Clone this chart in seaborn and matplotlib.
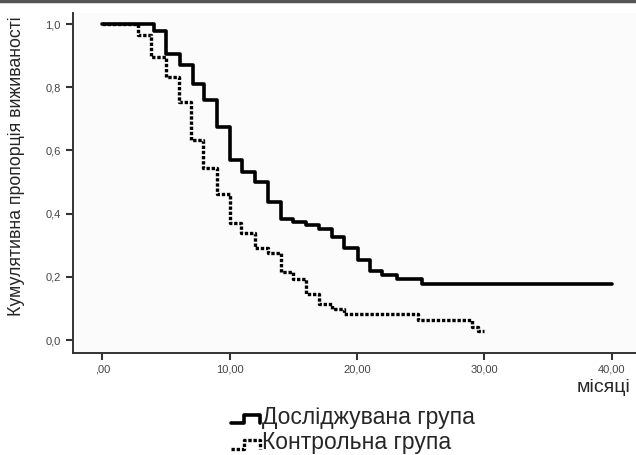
import numpy as np
import pandas as pd
import seaborn as sns
import matplotlib.pyplot as plt
from matplotlib.lines import Line2D
from matplotlib.legend_handler import HandlerLine2D

# --- data ---
study_label = "Досліджувана група"
control_label = "Контрольна група"

study_time = [0, 4.1, 5.0, 6.1, 7.1, 8.0, 9.0, 10.0, 11.0, 12.0, 13.0, 14.0,
              15.0, 16.0, 17.0, 18.0, 19.0, 20.1, 21.0, 22.0, 23.1, 25.1, 40.0]
study_surv = [1.0, 0.979, 0.904, 0.872, 0.809, 0.759, 0.675, 0.570, 0.532, 0.501,
              0.437, 0.383, 0.373, 0.363, 0.353, 0.327, 0.290, 0.253, 0.218, 0.206,
              0.193, 0.177, 0.177]

control_time = [0, 2.8, 3.85, 5.0, 6.0, 7.0, 7.9, 9.0, 10.0, 10.9, 12.0, 13.0,
                14.0, 15.0, 16.0, 17.0, 18.0, 19.0, 24.8, 29.0, 29.5, 30.0]
control_surv = [1.0, 0.965, 0.897, 0.833, 0.754, 0.633, 0.543, 0.461, 0.372, 0.338,
                0.290, 0.276, 0.216, 0.193, 0.146, 0.114, 0.097, 0.083, 0.063, 0.042,
                0.03, 0.03]

x_ticks = [0, 10, 20, 30, 40]
x_tick_labels = [",00", "10,00", "20,00", "30,00", "40,00"]
y_ticks = [0.0, 0.2, 0.4, 0.6, 0.8, 1.0]
y_tick_labels = ["0,0", "0,2", "0,4", "0,6", "0,8", "1,0"]

df = pd.concat([
    pd.DataFrame({"t": study_time, "s": study_surv, "group": study_label}),
    pd.DataFrame({"t": control_time, "s": control_surv, "group": control_label}),
])

DOTTED = (0, (1.0, 0.55))


class StepHandler(HandlerLine2D):
    # little step icon like the SPSS legend
    def create_artists(self, legend, orig_handle, xdescent, ydescent,
                       width, height, fontsize, trans):
        x0, x1 = -xdescent, -xdescent + width
        xm = x0 + 0.45 * width
        lo, hi = height * 0.05, height * 0.6
        line = Line2D([x0, xm, xm, x1, x1], [lo, lo, hi, hi, lo])
        self.update_prop(line, orig_handle, legend)
        line.set_transform(trans)
        return [line]


# --- plot ---
sns.set_theme(style="white")
plt.rcParams['font.family'] = ['Liberation Sans', 'DejaVu Sans']

fig = plt.figure(figsize=(6.36, 4.55), dpi=100)
ax = fig.add_axes([0.1143, 0.2248, 0.8857, 0.7466])
ax.set_facecolor("#fbfbfb")

sns.lineplot(data=df[df.group == study_label], x="t", y="s", color="black",
             linewidth=2.6, drawstyle="steps-post", estimator=None, sort=False, ax=ax)
sns.lineplot(data=df[df.group == control_label], x="t", y="s", color="black",
             linewidth=2.4, drawstyle="steps-post", estimator=None, sort=False,
             dashes=False, ax=ax, linestyle=DOTTED)

ax.set_xlim(-2.32, 41.9)
ax.set_ylim(-0.04, 1.035)
ax.set_xticks(x_ticks, x_tick_labels)
ax.set_yticks(y_ticks, y_tick_labels)
ax.tick_params(axis="both", direction="out", length=5, width=1.5, color="#333333",
               labelsize=8, labelcolor="#444444", left=True, bottom=True)
ax.set_xlabel("")
ax.set_ylabel("")

for side in ["top", "right"]:
    ax.spines[side].set_visible(False)
for side in ["left", "bottom"]:
    ax.spines[side].set_color("#333333")
    ax.spines[side].set_linewidth(1.4)

fig.text(630 / 636, 1 - 388 / 455, "місяці", ha="right", va="center", fontsize=14)
fig.text(17 / 636, 1 - 166 / 455, "Кумулятивна пропорція виживаності",
         rotation=90, ha="center", va="center", fontsize=12.8)

handles = [
    Line2D([], [], color="black", linewidth=2.6),
    Line2D([], [], color="black", linewidth=2.4, linestyle=DOTTED),
]
fig.legend(handles, [study_label, control_label], loc="upper left",
           bbox_to_anchor=(222 / 636, 1 - 397 / 455), frameon=False, fontsize=16.5,
           handlelength=1.25, handletextpad=0.1, labelspacing=0.1, borderaxespad=0,
           handler_map={Line2D: StepHandler()})

# thin dark border along the top of the picture
fig.add_artist(Line2D([0, 1], [0.997, 0.997], color="#555555", linewidth=2.5,
                      transform=fig.transFigure))

fig.savefig("out.png", dpi=100)
